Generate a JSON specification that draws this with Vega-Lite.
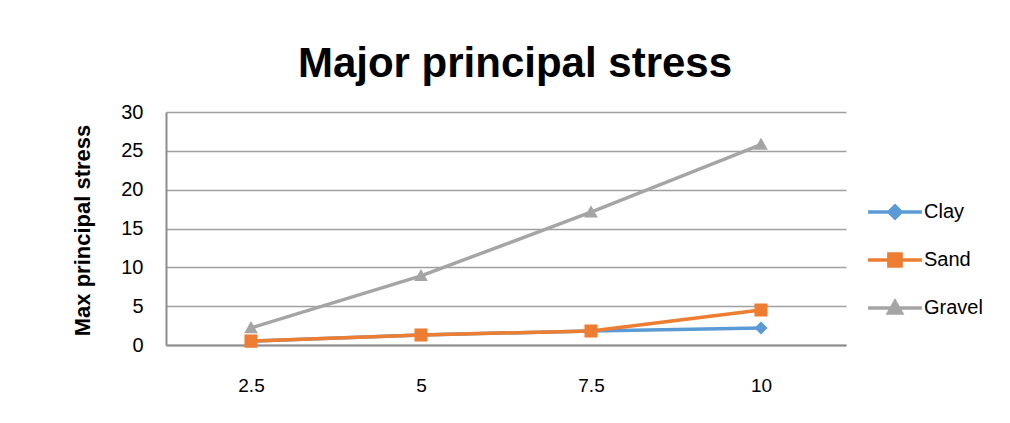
{
  "$schema": "https://vega.github.io/schema/vega-lite/v6.json",
  "width": 680,
  "height": 233,
  "autosize": {"type": "none"},
  "padding": {"left": 166, "top": 112, "right": 164, "bottom": 78},
  "background": "white",
  "title": {
    "text": "Major principal stress",
    "font": "Liberation Sans, Arial, sans-serif",
    "fontSize": 42,
    "fontWeight": "bold",
    "color": "#000000",
    "anchor": "middle",
    "dx": 9,
    "offset": 16
  },
  "data": {
    "values": [
      {"x": "2.5", "series": "Clay", "value": 0.5},
      {"x": "5", "series": "Clay", "value": 1.3},
      {"x": "7.5", "series": "Clay", "value": 1.8},
      {"x": "10", "series": "Clay", "value": 2.2},
      {"x": "2.5", "series": "Sand", "value": 0.5},
      {"x": "5", "series": "Sand", "value": 1.3},
      {"x": "7.5", "series": "Sand", "value": 1.8},
      {"x": "10", "series": "Sand", "value": 4.5},
      {"x": "2.5", "series": "Gravel", "value": 2.2},
      {"x": "5", "series": "Gravel", "value": 8.9},
      {"x": "7.5", "series": "Gravel", "value": 17.1},
      {"x": "10", "series": "Gravel", "value": 25.8}
    ]
  },
  "encoding": {
    "x": {
      "field": "x",
      "type": "ordinal",
      "sort": ["2.5", "5", "7.5", "10"],
      "scale": {"type": "point", "padding": 0.5},
      "axis": {
        "title": null,
        "labelAngle": 0,
        "labelFont": "Liberation Sans, Arial, sans-serif",
        "labelFontSize": 19,
        "labelColor": "#000000",
        "labelPadding": 31,
        "ticks": false,
        "domainColor": "#8C8C8C",
        "domainWidth": 2,
        "grid": false
      }
    },
    "y": {
      "field": "value",
      "type": "quantitative",
      "scale": {"domain": [0, 30], "nice": false},
      "axis": {
        "title": "Max principal stress",
        "titleFont": "Liberation Sans, Arial, sans-serif",
        "titleFontSize": 22,
        "titleFontWeight": "bold",
        "titleColor": "#000000",
        "titleX": -84,
        "titleY": 118,
        "titleAngle": -90,
        "titleAlign": "center",
        "titleBaseline": "middle",
        "values": [0, 5, 10, 15, 20, 25, 30],
        "labelFont": "Liberation Sans, Arial, sans-serif",
        "labelFontSize": 20,
        "labelColor": "#000000",
        "labelPadding": 23,
        "ticks": false,
        "domainColor": "#8C8C8C",
        "domainWidth": 2,
        "grid": true,
        "gridColor": "#A0A0A0",
        "gridWidth": 1.5
      }
    },
    "color": {
      "field": "series",
      "type": "nominal",
      "sort": ["Clay", "Sand", "Gravel"],
      "scale": {"domain": ["Clay", "Sand", "Gravel"], "range": ["#5B9BD5", "#ED7D31", "#A5A5A5"]},
      "legend": {
        "title": null,
        "orient": "none",
        "legendX": 719,
        "legendY": 90,
        "symbolSize": 150,
        "symbolOpacity": 1,
        "symbolStrokeWidth": 3,
        "rowPadding": 20,
        "labelFont": "Liberation Sans, Arial, sans-serif",
        "labelFontSize": 20,
        "labelColor": "#000000",
        "labelOffset": 19,
        "symbolOffset": 0,
        "padding": 0,
        "encode": {
          "symbols": {
            "update": {
              "stroke": {"scale": "color", "field": "value"},
              "strokeWidth": {"value": 3.5}
            }
          }
        }
      }
    }
  },
  "layer": [
    {
      "mark": {"type": "line", "strokeWidth": 3.5},
      "encoding": {
        "order": {"field": "series", "sort": "ascending"}
      }
    },
    {
      "mark": {"type": "point", "filled": false, "opacity": 1, "strokeWidth": 0, "size": 170},
      "encoding": {
        "fill": {
          "field": "series",
          "type": "nominal",
          "scale": {"domain": ["Clay", "Sand", "Gravel"], "range": ["#5B9BD5", "#ED7D31", "#A5A5A5"]},
          "legend": {
            "title": null,
            "orient": "none",
            "legendX": 719,
            "legendY": 90,
            "symbolSize": 150,
            "symbolOpacity": 1,
            "symbolStrokeWidth": 3,
            "rowPadding": 20,
            "labelFont": "Liberation Sans, Arial, sans-serif",
            "labelFontSize": 20,
            "labelColor": "#000000",
            "labelOffset": 19,
            "symbolOffset": 0,
            "padding": 0
          }
        },
        "shape": {
          "field": "series",
          "type": "nominal",
          "scale": {
            "domain": ["Clay", "Sand", "Gravel"],
            "range": [
              "M-4.4,0H4.4M0,-1L1,0L0,1L-1,0Z",
              "M-4.4,0H4.4M-1,-1H1V1H-1Z",
              "M-4.4,0H4.4M0,-1.05L1.05,0.8H-1.05Z"
            ]
          },
          "legend": {
            "title": null,
            "orient": "none",
            "legendX": 719,
            "legendY": 90,
            "symbolSize": 150,
            "symbolOpacity": 1,
            "symbolStrokeWidth": 3,
            "rowPadding": 20,
            "labelFont": "Liberation Sans, Arial, sans-serif",
            "labelFontSize": 20,
            "labelColor": "#000000",
            "labelOffset": 19,
            "symbolOffset": 0,
            "padding": 0
          }
        }
      }
    }
  ],
  "config": {
    "view": {"stroke": null}
  }
}
